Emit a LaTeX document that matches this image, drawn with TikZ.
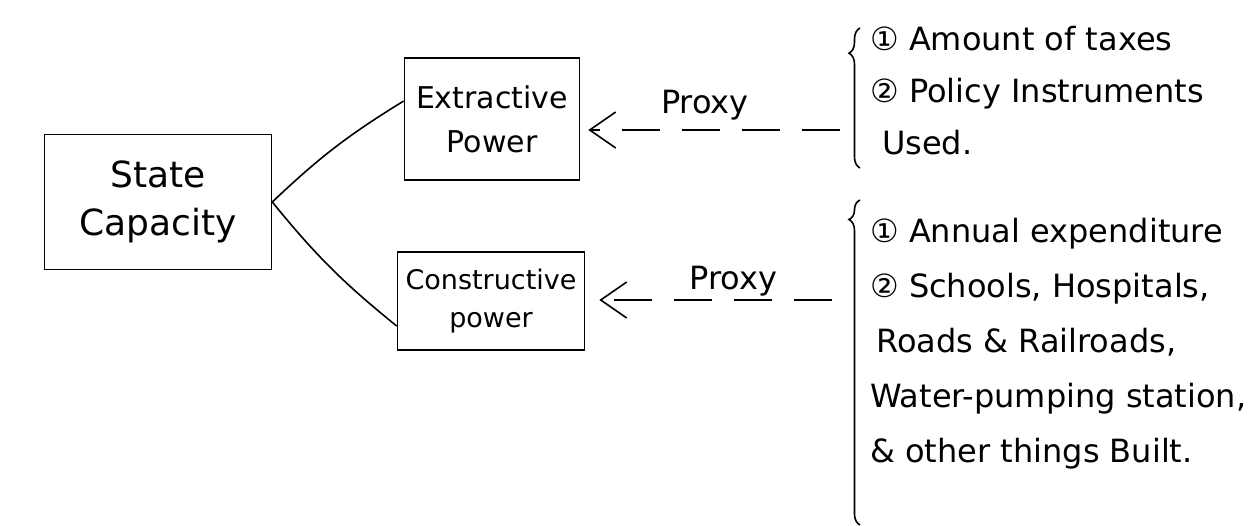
\documentclass[tikz,border=0pt]{standalone}
\usepackage{fontspec}
\setmainfont{DejaVu Sans}
\usetikzlibrary{arrows.meta,decorations.pathreplacing,positioning}
\tikzset{
    powerbox/.style={
        draw,
        line width=1.6pt,
        align=center,
        inner sep=4pt
    },
    proxyarrow/.style={
        line width=1.6pt,
        dash pattern=on 38pt off 22pt,
        -{Straight Barb[length=26pt,width=36pt,line width=1.6pt]}
    },
    proxylabel/.style={
        font=\fontsize{32}{36}\selectfont,
        above
    },
    itemlist/.style={
        anchor=north west,
        align=left,
        inner sep=0pt,
        font=\fontsize{32}{52}\selectfont
    },
    listbrace/.style={
        line width=1.6pt,
        decorate,
        decoration={brace,amplitude=11pt}
    }
}
\begin{document}
\begin{tikzpicture}[x=1pt,y=-1pt]
    \useasboundingbox (0,0) rectangle (1260,525);
    % boxes
    \node [powerbox, minimum width=227pt, minimum height=135pt, font=\fontsize{36}{48}\selectfont] (state) at (158,202) {State\\Capacity};
    \node [powerbox, minimum width=175pt, minimum height=122pt, font=\fontsize{30}{44}\selectfont] (extr) at (492,119) {Extractive\\Power};
    \node [powerbox, minimum width=187pt, minimum height=98pt, font=\fontsize{27}{38}\selectfont] (constr) at (491,301) {Constructive\\power};
    \draw [line width=1.6pt] (state.east) to[bend left=6] ([yshift=18pt]extr.west);
    \draw [line width=1.6pt] (state.east) to[bend right=6] ([yshift=-25pt]constr.west);
    % lists
    \node [itemlist] (taxes) at (870,26) {① Amount of taxes\\② Policy Instruments\\\hspace*{12pt}Used.};
    \node [itemlist, font=\fontsize{32}{55}\selectfont] (built) at (870,218) {① Annual expenditure\\② Schools, Hospitals,\\\hspace*{6pt}Roads \& Railroads,\\Water-pumping station,\\\& other things Built.};
    \draw [listbrace, decoration={aspect=0.82}] (860,168) -- (860,28);
    \draw [listbrace, decoration={aspect=0.94}] (860,525) -- (860,200);
    % proxies
    \coordinate (p1) at (840,130);
    \coordinate (p2) at (832,300);
    \draw [proxyarrow, shorten >=8pt] (p1) -- (p1 -| extr.east) node [proxylabel, pos=0.52, yshift=6pt] {Proxy};
    \draw [proxyarrow, shorten >=14pt] (p2) -- (p2 -| constr.east) node [proxylabel, pos=0.4, yshift=0pt] {Proxy};
\end{tikzpicture}
\end{document}
